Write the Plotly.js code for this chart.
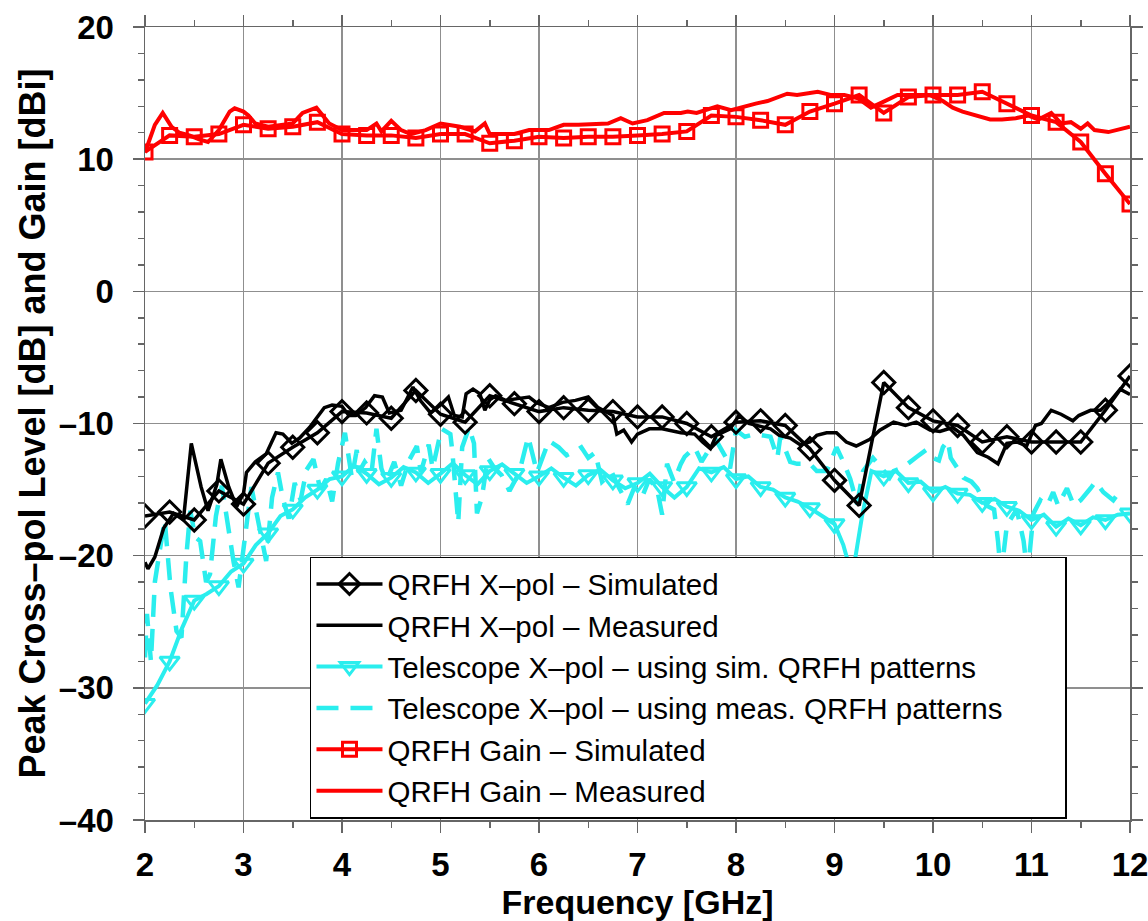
<!DOCTYPE html>
<html>
<head>
<meta charset="utf-8">
<script src="https://cdn.plot.ly/plotly-3.0.1.min.js"></script>
<style>
html,body{margin:0;padding:0;background:#fff;}
#chart{width:1148px;height:921px;}
</style>
</head>
<body>
<div id="chart"></div>
<script>
// ---- Data ----
// QRFH X-pol - Simulated (diamonds, every 0.25 GHz)
const qxSimX = [2.0,2.25,2.5,2.75,3.0,3.25,3.5,3.75,4.0,4.25,4.5,4.75,5.0,5.25,5.5,5.75,6.0,6.25,6.5,6.75,7.0,7.25,7.5,7.75,8.0,8.25,8.5,8.75,9.0,9.25,9.5,9.75,10.0,10.25,10.5,10.75,11.0,11.25,11.5,11.75,12.0];
const qxSimY = [-17.0,-16.7,-17.3,-15.1,-16.1,-13.0,-11.8,-10.7,-9.1,-9.2,-9.6,-7.5,-9.3,-9.9,-7.9,-8.5,-9.1,-8.8,-9.0,-9.1,-9.5,-9.5,-10.0,-11.0,-9.9,-9.8,-10.15,-11.9,-14.3,-16.2,-6.9,-8.8,-9.8,-10.15,-11.4,-11.0,-11.4,-11.4,-11.4,-9.0,-6.4];

// QRFH X-pol - Measured
const qxMeasX = [2.0,2.03,2.1,2.19,2.29,2.39,2.47,2.57,2.64,2.73,2.77,2.85,2.93,3.0,3.03,3.12,3.23,3.33,3.4,3.49,3.57,3.67,3.82,3.9,4.0,4.07,4.14,4.24,4.33,4.41,4.48,4.6,4.72,4.8,4.9,5.0,5.08,5.14,5.22,5.26,5.33,5.4,5.45,5.5,5.56,5.66,5.8,5.9,5.97,6.1,6.24,6.37,6.5,6.6,6.75,6.79,6.86,6.94,7.0,7.12,7.25,7.44,7.58,7.66,7.74,7.8,7.94,8.03,8.13,8.25,8.35,8.44,8.55,8.65,8.75,8.82,8.92,9.02,9.12,9.22,9.36,9.46,9.6,9.72,9.83,9.97,10.07,10.2,10.31,10.45,10.56,10.66,10.75,10.85,10.95,11.04,11.1,11.2,11.3,11.42,11.48,11.6,11.7,11.8,11.9,12.0];
const qxMeasY = [-20.5,-21.0,-20.1,-17.9,-16.8,-17.3,-11.5,-14.8,-16.6,-14.6,-12.7,-14.8,-16.3,-15.3,-13.7,-12.9,-12.3,-10.7,-10.8,-11.5,-11.1,-10.3,-8.8,-8.6,-8.7,-9.4,-9.4,-8.8,-7.9,-8.0,-9.2,-9.0,-7.25,-8.3,-9.2,-8.6,-8.0,-9.4,-9.5,-7.75,-7.4,-7.75,-9.0,-8.2,-7.9,-8.25,-8.1,-8.0,-8.4,-8.8,-8.4,-8.25,-8.0,-8.8,-9.4,-10.8,-10.5,-11.4,-10.8,-10.4,-10.4,-10.7,-10.8,-11.4,-11.9,-10.9,-10.4,-9.4,-10.0,-10.2,-10.4,-10.9,-11.1,-11.6,-11.4,-10.9,-10.7,-10.7,-11.4,-11.7,-11.2,-10.5,-9.9,-10.15,-9.9,-10.5,-10.6,-10.3,-10.9,-12.2,-12.55,-13.05,-11.5,-11.4,-11.7,-10.15,-10.0,-9.0,-9.3,-9.8,-9.4,-9.0,-9.0,-8.3,-7.4,-7.8];

// Telescope X-pol - using sim. QRFH patterns (line samples)
const telSimX = [2.0,2.125,2.25,2.375,2.5,2.625,2.75,2.875,3.0,3.125,3.25,3.375,3.5,3.625,3.75,3.875,4.0,4.125,4.25,4.375,4.5,4.625,4.75,4.875,5.0,5.125,5.25,5.375,5.5,5.625,5.75,5.875,6.0,6.125,6.25,6.375,6.5,6.625,6.75,6.875,7.0,7.125,7.25,7.375,7.5,7.625,7.75,7.875,8.0,8.125,8.25,8.375,8.5,8.625,8.75,8.875,9.0,9.09,9.18,9.28,9.375,9.5,9.625,9.75,9.875,10.0,10.125,10.25,10.375,10.5,10.625,10.75,10.875,11.0,11.125,11.25,11.375,11.5,11.625,11.75,11.875,12.0];
const telSimY = [-31.2,-29.8,-28.0,-25.5,-23.4,-22.9,-22.3,-21.2,-20.6,-19.2,-18.3,-17.0,-16.5,-15.6,-15.0,-14.2,-14.0,-13.2,-13.8,-14.6,-14.1,-13.3,-13.7,-14.5,-13.8,-13.0,-13.9,-14.6,-13.6,-13.1,-13.8,-14.5,-14.0,-13.4,-14.1,-14.7,-13.9,-13.5,-14.3,-14.9,-14.5,-13.8,-14.8,-15.6,-14.8,-13.4,-13.7,-13.3,-14.2,-14.0,-14.8,-15.0,-15.6,-15.9,-16.4,-17.0,-17.6,-19.2,-21.6,-17.0,-13.6,-14.0,-13.6,-14.5,-14.4,-15.2,-14.8,-15.3,-15.4,-16.0,-15.7,-16.3,-16.6,-17.3,-16.9,-17.8,-17.2,-17.7,-17.1,-17.3,-16.9,-16.8];
// Telescope X-pol - using sim. QRFH patterns (marker positions)
const telSimMkX = [2.0,2.25,2.5,2.75,3.0,3.25,3.5,3.75,4.0,4.25,4.5,4.75,5.0,5.25,5.5,5.75,6.0,6.25,6.5,6.75,7.0,7.25,7.5,7.75,8.0,8.25,8.5,8.75,9.0,9.5,9.75,10.0,10.25,10.5,10.75,11.0,11.25,11.5,11.75,12.0];
const telSimMkY = [-31.2,-28.0,-23.4,-22.3,-20.6,-18.3,-16.5,-15.0,-14.0,-13.8,-14.1,-13.7,-13.8,-13.9,-13.6,-13.8,-14.0,-14.1,-13.9,-14.3,-14.5,-14.8,-14.8,-13.7,-14.2,-14.8,-15.6,-16.4,-17.6,-14.0,-14.5,-15.2,-15.3,-16.0,-16.3,-17.3,-17.8,-17.7,-17.3,-16.8];

// Telescope X-pol - using meas. QRFH patterns
const telMeasX = [2.0,2.02,2.06,2.1,2.15,2.2,2.26,2.32,2.37,2.42,2.46,2.51,2.56,2.62,2.66,2.72,2.78,2.84,2.9,2.95,3.0,3.04,3.08,3.16,3.23,3.29,3.35,3.4,3.46,3.52,3.58,3.64,3.71,3.78,3.84,3.9,3.96,4.03,4.1,4.15,4.17,4.23,4.3,4.35,4.4,4.45,4.53,4.6,4.68,4.76,4.8,4.88,4.92,5.01,5.1,5.12,5.15,5.18,5.22,5.29,5.34,5.37,5.42,5.48,5.55,5.62,5.7,5.8,5.89,5.93,5.98,6.1,6.2,6.28,6.37,6.43,6.5,6.57,6.64,6.74,6.8,6.9,6.97,7.05,7.12,7.2,7.25,7.3,7.37,7.44,7.48,7.58,7.65,7.74,7.8,7.9,7.94,8.0,8.09,8.19,8.25,8.35,8.42,8.45,8.55,8.62,8.75,8.82,8.92,9.02,9.09,9.16,9.23,9.29,9.39,9.5,9.56,9.6,9.7,9.83,9.93,10.0,10.06,10.1,10.15,10.18,10.24,10.31,10.39,10.45,10.54,10.62,10.66,10.69,10.75,10.85,10.92,10.96,11.02,11.09,11.16,11.22,11.27,11.36,11.43,11.5,11.6,11.65,11.73,11.83,11.9];
const telMeasY = [-27.7,-24.4,-28.0,-22.0,-19.6,-17.3,-22.5,-25.7,-26.2,-20.0,-16.6,-18.6,-18.9,-22.0,-21.4,-17.0,-14.7,-17.9,-20.5,-22.4,-19.4,-17.5,-14.8,-17.8,-20.4,-15.6,-13.7,-15.7,-17.2,-14.5,-15.8,-13.5,-12.7,-15.0,-14.2,-15.9,-13.0,-10.7,-14.1,-12.0,-13.7,-12.9,-13.7,-10.4,-13.4,-14.4,-12.9,-14.7,-12.8,-11.7,-13.7,-11.6,-13.4,-10.4,-10.8,-12.1,-14.8,-17.5,-11.8,-10.3,-11.5,-16.8,-15.6,-12.6,-13.4,-13.9,-15.1,-13.7,-11.0,-12.1,-13.7,-11.3,-11.8,-12.4,-12.1,-11.8,-12.6,-12.2,-14.4,-13.7,-14.7,-16.1,-14.8,-15.5,-14.2,-15.0,-16.9,-13.05,-14.4,-13.05,-12.5,-11.8,-12.9,-11.8,-11.3,-12.6,-13.4,-10.5,-11.0,-10.8,-10.9,-11.0,-12.6,-11.0,-12.9,-13.05,-13.05,-13.6,-13.6,-11.8,-12.9,-14.2,-16.1,-13.6,-12.6,-13.6,-14.1,-13.6,-13.3,-12.55,-12.0,-12.6,-12.8,-11.8,-11.3,-12.6,-13.3,-14.1,-14.4,-14.9,-16.2,-16.5,-18.9,-21.5,-17.7,-16.5,-18.9,-21.5,-16.8,-15.8,-16.2,-15.2,-16.2,-14.9,-16.2,-15.8,-14.9,-14.4,-15.2,-15.8,-15.1];

// QRFH Gain - Simulated (squares, every 0.25 GHz)
const gainSimX = [2.0,2.25,2.5,2.75,3.0,3.25,3.5,3.75,4.0,4.25,4.5,4.75,5.0,5.25,5.5,5.75,6.0,6.25,6.5,6.75,7.0,7.25,7.5,7.75,8.0,8.25,8.5,8.75,9.0,9.25,9.5,9.75,10.0,10.25,10.5,10.75,11.0,11.25,11.5,11.75,12.0];
const gainSimY = [10.55,11.8,11.7,11.9,12.6,12.3,12.45,12.8,11.9,11.8,11.8,11.6,11.9,11.9,11.2,11.4,11.7,11.6,11.7,11.7,11.8,11.9,12.1,13.3,13.2,12.95,12.6,13.6,14.2,14.85,13.5,14.7,14.85,14.85,15.1,14.2,13.3,12.8,11.3,8.9,6.6];

// QRFH Gain - Measured
const gainMeasX = [2.0,2.05,2.1,2.18,2.27,2.35,2.45,2.55,2.64,2.75,2.86,2.91,3.0,3.05,3.12,3.25,3.4,3.5,3.6,3.74,3.87,4.0,4.25,4.35,4.4,4.5,4.6,4.7,4.85,5.0,5.2,5.35,5.45,5.5,5.75,5.9,6.1,6.25,6.4,6.6,6.7,6.83,6.95,7.1,7.27,7.44,7.51,7.6,7.75,7.81,7.95,8.08,8.2,8.32,8.42,8.52,8.62,8.73,8.83,8.97,9.1,9.24,9.37,9.5,9.64,9.8,9.97,10.1,10.2,10.3,10.44,10.58,10.7,10.84,10.97,11.07,11.2,11.3,11.4,11.5,11.57,11.64,11.78,11.91,12.0];
const gainMeasY = [10.5,11.6,12.6,13.5,12.45,12.0,11.8,11.5,11.3,12.2,13.6,13.85,13.6,13.3,12.7,12.45,12.6,12.7,13.5,13.9,12.7,12.2,12.2,12.7,12.1,12.9,12.2,11.9,12.2,12.7,12.45,12.1,12.7,11.9,11.9,12.2,12.2,12.6,12.6,12.7,12.7,13.1,12.7,12.95,13.5,13.5,13.6,13.5,13.9,14.0,13.7,14.0,14.2,14.4,14.7,14.95,14.85,14.95,15.1,14.85,14.85,14.6,13.9,14.35,14.85,14.85,14.85,14.4,13.9,13.6,13.3,13.0,13.0,13.1,13.3,13.0,13.5,12.7,12.8,12.3,12.7,12.2,12.05,12.3,12.45];

// Axis ticks
const xTicks = [2,3,4,5,6,7,8,9,10,11,12];
const yTicks = [-40,-30,-20,-10,0,10,20];

// ---- Styles ----
const BLACK = '#000000', CYAN = '#2aeeee', RED = '#ff0000';
const FONT = 'Liberation Sans, Arial, Helvetica, sans-serif';
const D = '\u2013';
const PAD = '\u00a0'.repeat(7); // trailing blank room so the legend box is as wide as in the reference

const traces = [
  // drawn first (behind): telescope curves
  {x: telMeasX, y: telMeasY, mode: 'lines', name: 'Telescope X' + D + 'pol ' + D + ' using meas. QRFH patterns' + PAD,
   line: {color: CYAN, width: 4.5, dash: '22px,12px'}, legendrank: 4},
  {x: telSimX, y: telSimY, mode: 'lines', showlegend: false, legendgroup: 'ts',
   line: {color: CYAN, width: 4}},
  {x: telSimMkX, y: telSimMkY, mode: 'markers', showlegend: false, legendgroup: 'ts',
   marker: {symbol: 'triangle-down-open', size: 17, color: CYAN, line: {width: 3, color: CYAN}}},
  {x: [null], y: [null], mode: 'lines+markers', legendgroup: 'ts', name: 'Telescope X' + D + 'pol ' + D + ' using sim. QRFH patterns',
   line: {color: CYAN, width: 4}, marker: {symbol: 'triangle-down-open', size: 17, color: CYAN, line: {width: 3, color: CYAN}}, legendrank: 3},
  {x: qxMeasX, y: qxMeasY, mode: 'lines', name: 'QRFH X' + D + 'pol ' + D + ' Measured',
   line: {color: BLACK, width: 3.5}, legendrank: 2},
  {x: qxSimX, y: qxSimY, mode: 'lines+markers', name: 'QRFH X' + D + 'pol ' + D + ' Simulated',
   line: {color: BLACK, width: 3.5}, marker: {symbol: 'diamond-open', size: 17, color: BLACK, line: {width: 3, color: BLACK}}, legendrank: 1},
  {x: gainMeasX, y: gainMeasY, mode: 'lines', name: 'QRFH Gain ' + D + ' Measured',
   line: {color: RED, width: 4}, legendrank: 6},
  {x: gainSimX, y: gainSimY, mode: 'lines+markers', name: 'QRFH Gain ' + D + ' Simulated',
   line: {color: RED, width: 4}, marker: {symbol: 'square-open', size: 14, color: RED, line: {width: 3, color: RED}}, legendrank: 5}
];

const axisCommon = {
  showgrid: true, gridcolor: '#8f8f8f', gridwidth: 1.5,
  showline: true, linecolor: '#666', linewidth: 1.5, mirror: 'ticks',
  ticks: 'outside', ticklen: 11, tickwidth: 1.5, tickcolor: '#666',
  zeroline: false, ticklabeloverflow: 'allow',
  tickfont: {family: FONT, size: 33, color: '#000', weight: 'bold'}
};

const layout = {
  width: 1148, height: 921,
  margin: {l: 145, r: 18, t: 27, b: 101},
  paper_bgcolor: '#fff', plot_bgcolor: '#fff',
  showlegend: true,
  legend: {
    x: 0.1675, xanchor: 'left', y: 0.332, yanchor: 'top',
    bgcolor: '#fff', bordercolor: '#000', borderwidth: 1.5,
    font: {family: FONT, size: 29.5, color: '#000'},
    itemwidth: 66, tracegroupgap: 0, traceorder: 'normal'
  },
  xaxis: Object.assign({}, axisCommon, {
    range: [2, 12], tickvals: xTicks, ticktext: xTicks.map(String),
    minor: {dtick: 0.5, ticks: 'outside', ticklen: 6, tickwidth: 1.5, tickcolor: '#666', showgrid: false},
    ticklabelstandoff: 4,
    title: {text: 'Frequency [GHz]', font: {family: FONT, size: 34, color: '#000', weight: 'bold'}, standoff: 7}
  }),
  yaxis: Object.assign({}, axisCommon, {
    range: [-40, 20], tickvals: yTicks, ticktext: yTicks.map(v => v < 0 ? D + Math.abs(v) : String(v)),
    minor: {dtick: 2, ticks: 'outside', ticklen: 6, tickwidth: 1.5, tickcolor: '#666', showgrid: false},
    ticklabelstandoff: 12,
    title: {text: 'Peak Cross' + D + 'pol Level [dB] and Gain [dBi]', font: {family: FONT, size: 36, color: '#000', weight: 'bold'}, standoff: 2}
  })
};

Plotly.newPlot('chart', traces, layout, {displayModeBar: false, staticPlot: true});
</script>
</body>
</html>
